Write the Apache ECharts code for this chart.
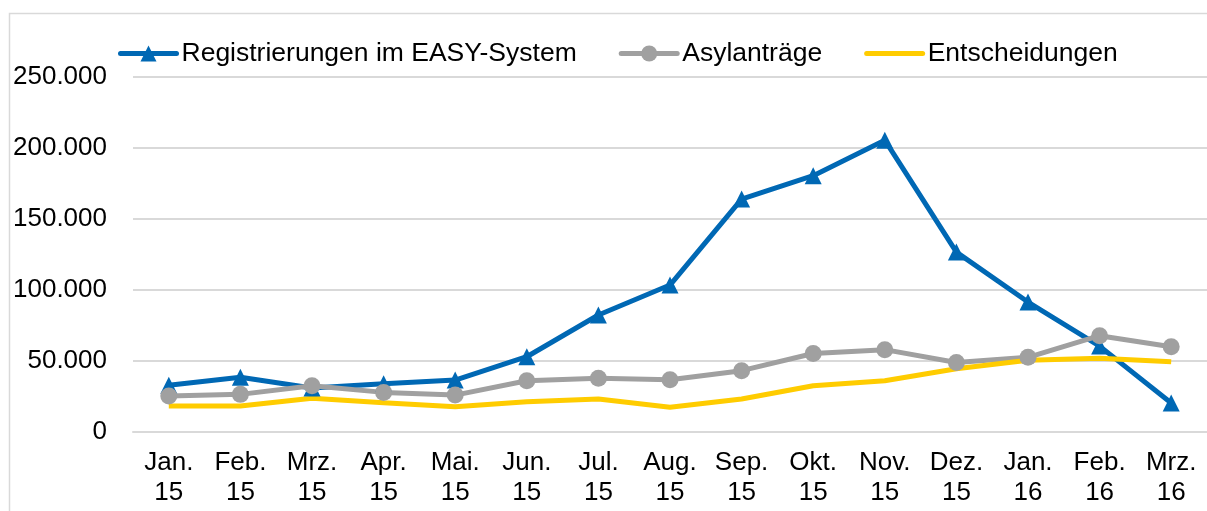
<!DOCTYPE html>
<html>
<head>
<meta charset="utf-8">
<script src="https://cdn.jsdelivr.net/npm/echarts@6/dist/echarts.min.js"></script>
<style>
  html, body { margin: 0; padding: 0; background: #fff; }
  #box { width: 1207px; height: 511px; }
</style>
</head>
<body>
<div id="box"></div>
<script>
// Kategorien (Monate)
var months = ["Jan.\n15", "Feb.\n15", "Mrz.\n15", "Apr.\n15", "Mai.\n15", "Jun.\n15", "Jul.\n15", "Aug.\n15",
  "Sep.\n15", "Okt.\n15", "Nov.\n15", "Dez.\n15", "Jan.\n16", "Feb.\n16", "Mrz.\n16"];
// Werte
var easy = [33000, 38500, 31000, 34000, 36600, 53000, 82400, 103500, 164000, 180500, 205500, 126700, 91500, 60500, 20400];
var antraege = [25300, 26500, 32500, 27900, 26000, 36100, 37800, 36800, 43200, 55300, 58000, 49000, 52600, 67800, 60000];
var entscheidungen = [18300, 18300, 23700, 20600, 17800, 21300, 23200, 17400, 23200, 32600, 36100, 44600, 50500, 51900, 49500];
// Achse
var yTicks = [0, 50000, 100000, 150000, 200000, 250000];

var font = "Liberation Sans";

function fmt(v) {
  return String(v).replace(/\B(?=(\d{3})+(?!\d))/g, ".");
}

var myCharts = echarts.init(document.getElementById("box"));
var option = {
  animation: false,
  textStyle: { fontFamily: font },
  graphic: [{
    type: "rect",
    shape: { x: 9.5, y: 13.5, width: 1400, height: 700 },
    style: { fill: null, stroke: "#d9d9d9", lineWidth: 1.5 },
    silent: true
  }],
  legend: {
    left: 118,
    top: 40,
    padding: 0,
    itemWidth: 56,
    itemHeight: 20,
    itemGap: 42,
    textStyle: { fontFamily: font, fontSize: 26.5, color: "#000" },
    data: [
      { name: "Registrierungen im EASY-System", lineStyle: { width: 5, cap: "round" } },
      { name: "Asylanträge", lineStyle: { width: 5, cap: "round" } },
      { name: "Entscheidungen", lineStyle: { width: 5, cap: "round" }, itemStyle: { opacity: 0 } }
    ]
  },
  grid: { left: 133, right: -3, top: 77, bottom: 79, containLabel: false },
  xAxis: {
    type: "category",
    boundaryGap: true,
    data: months,
    axisLine: { show: true, lineStyle: { color: "#d9d9d9", width: 2 } },
    axisTick: { show: false },
    axisLabel: {
      interval: 0,
      margin: 16,
      fontFamily: font,
      fontSize: 26,
      lineHeight: 30,
      color: "#000"
    }
  },
  yAxis: {
    type: "value",
    min: yTicks[0],
    max: yTicks[yTicks.length - 1],
    interval: 50000,
    axisLine: { show: false },
    axisTick: { show: false },
    splitLine: { lineStyle: { color: "#d9d9d9", width: 2 } },
    axisLabel: {
      margin: 26,
      fontFamily: font,
      fontSize: 26,
      color: "#000",
      formatter: fmt
    }
  },
  series: [
    {
      name: "Registrierungen im EASY-System",
      type: "line",
      data: easy,
      symbol: "triangle",
      symbolSize: 17,
      color: "#0068b4",
      lineStyle: { width: 5, color: "#0068b4" },
      itemStyle: { color: "#0068b4" }
    },
    {
      name: "Asylanträge",
      type: "line",
      data: antraege,
      symbol: "circle",
      symbolSize: 17,
      color: "#a0a0a0",
      lineStyle: { width: 5, color: "#a0a0a0" },
      itemStyle: { color: "#a0a0a0" }
    },
    {
      name: "Entscheidungen",
      type: "line",
      data: entscheidungen,
      symbol: "none",
      showSymbol: false,
      color: "#ffcc00",
      lineStyle: { width: 5, color: "#ffcc00" },
      itemStyle: { color: "#ffcc00" }
    }
  ]
};
myCharts.setOption(option);
</script>
</body>
</html>
